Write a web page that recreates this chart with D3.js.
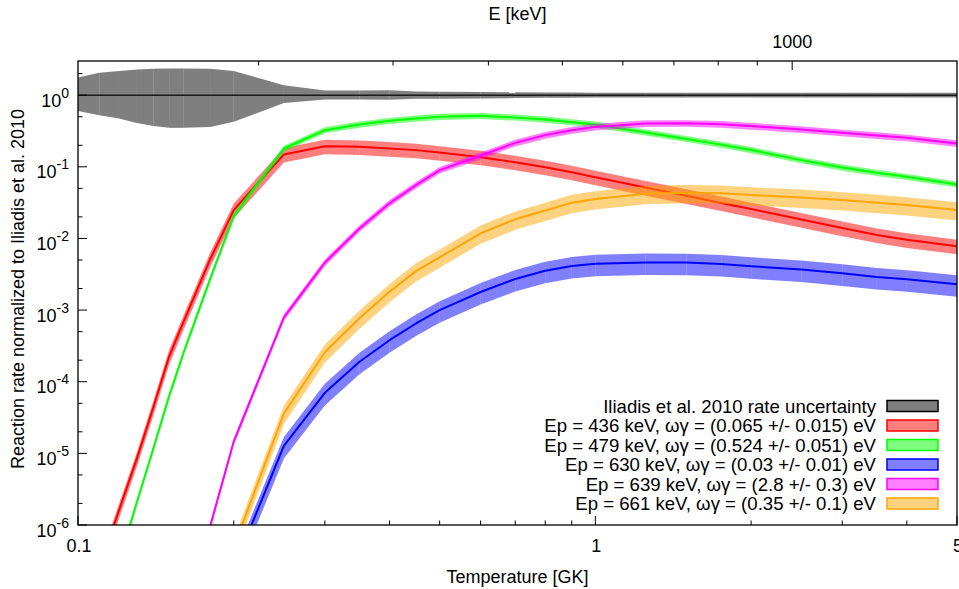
<!DOCTYPE html>
<html>
<head>
<meta charset="utf-8">
<script src="https://cdn.jsdelivr.net/npm/d3@7"></script>
<style>
  body { margin: 0; background: #fff; }
  svg { display: block; font-family: Arial, 'Liberation Sans', sans-serif; }
</style>
</head>
<body>
<div id="chart"></div>
<script>
'use strict';

// Temperature grid [GK] of the rate tables
var TEMPERATURES = [0.1, 0.11, 0.12, 0.13, 0.14, 0.15, 0.16, 0.18, 0.2, 0.25, 0.3, 0.35, 0.4, 0.45, 0.5,
  0.6, 0.7, 0.8, 0.9, 1.0, 1.25, 1.5, 1.75, 2.0, 2.5, 3.0, 3.5, 4.0, 5.0];

// Iliadis et al. 2010 high / low rate, normalized to the recommended rate
var ILIADIS_HIGH = [1.77, 2.05, 2.18, 2.28, 2.33, 2.36, 2.36, 2.33, 2.18, 1.38, 1.16, 1.16, 1.17, 1.13, 1.12,
  1.11, 1.10, 1.09, 1.09, 1.08, 1.08, 1.08, 1.08, 1.08, 1.08, 1.08, 1.08, 1.08, 1.08];
var ILIADIS_LOW = [0.60, 0.526, 0.473, 0.41, 0.37, 0.35, 0.35, 0.361, 0.424, 0.78, 0.87, 0.87, 0.86, 0.89, 0.89,
  0.90, 0.91, 0.92, 0.92, 0.93, 0.93, 0.93, 0.93, 0.93, 0.93, 0.93, 0.93, 0.93, 0.93];

// Normalized rate contribution of each resonance (null = far below the plot)
var RATE_436 = [null, 2.5e-7, 1.6e-6, 8.5e-6, 4.5e-5, 2.25e-4, 6.9e-4, 5.1e-3, 0.0249, 0.149, 0.194, 0.19, 0.18, 0.171, 0.158,
  0.1365, 0.116, 0.0989, 0.0841, 0.0716, 0.0513, 0.0394, 0.0313, 0.0257, 0.0184, 0.014, 0.0112, 0.0096, 0.0078];
var RATE_479 = [null, null, 3e-7, 2.1e-6, 1.2e-5, 6.3e-5, 2.55e-4, 2.7e-3, 0.0205, 0.18, 0.325, 0.39, 0.438, 0.473, 0.50,
  0.515, 0.489, 0.458, 0.42, 0.39, 0.302, 0.245, 0.204, 0.172, 0.124, 0.098, 0.0826, 0.0726, 0.0568];
var RATE_630 = [null, null, null, null, null, null, null, null, 2.5e-7, 1.27e-5, 7.0e-5, 1.9e-4, 3.8e-4, 6.5e-4, 1.0e-3,
  1.79e-3, 2.72e-3, 3.55e-3, 4.13e-3, 4.45e-3, 4.62e-3, 4.6e-3, 4.4e-3, 4.1e-3, 3.7e-3, 3.26e-3, 2.9e-3, 2.7e-3, 2.3e-3];
var RATE_639 = [null, null, null, null, null, null, 3e-8, 9.5e-7, 1.46e-5, 7.9e-4, 4.6e-3, 0.0138, 0.031, 0.0556, 0.09,
  0.143, 0.216, 0.277, 0.325, 0.361, 0.403, 0.405, 0.394, 0.37, 0.332, 0.298, 0.274, 0.254, 0.212];
var RATE_661 = [null, null, null, null, null, null, null, null, 4.9e-7, 3.6e-5, 2.58e-4, 7.7e-4, 1.8e-3, 3.5e-3, 5.45e-3,
  0.0118, 0.0185, 0.0245, 0.0316, 0.0356, 0.042, 0.0434, 0.0426, 0.0403, 0.0374, 0.0343, 0.0316, 0.0292, 0.0249];

var RESONANCE_ENERGIES = [436, 479, 630, 639, 661];     // keV
var STRENGTHS = [0.065, 0.524, 0.03, 2.8, 0.35];        // eV
var STRENGTH_ERRORS = [0.015, 0.051, 0.01, 0.3, 0.1];   // eV
var RESONANCE_RATES = [RATE_436, RATE_479, RATE_630, RATE_639, RATE_661];
var RESONANCE_COLORS = ['#ff0000', '#00ff00', '#0000ff', '#ff00ff', '#ffa500'];
var ILIADIS_LABEL = 'Iliadis et al. 2010 rate uncertainty';

// Axis ticks
var T_DOMAIN = [0.1, 5];
var T_MAJOR = [0.1, 1, 5];
var T_MINOR = [0.2, 0.3, 0.4, 0.5, 0.6, 0.7, 0.8, 0.9, 2, 3, 4];
var RATE_DOMAIN = [1e-6, 3];
var RATE_EXPONENTS = [0, -1, -2, -3, -4, -5, -6];
var RATE_MINOR_MANTISSAS = [2, 5];
var E_DOMAIN = [116, 1644];   // keV, Gamow energy at the ends of the temperature axis
var E_TICKS = [200, 300, 400, 500, 600, 700, 800, 900, 1000];
var E_LABELS = [1000];

// Layout, pixels
var WIDTH = 959;
var HEIGHT = 589;
var PLOT = { left: 78, right: 957, top: 61, bottom: 525 };
var MAJOR_TICK = 9;
var MINOR_TICK = 4.5;
var FONT_SIZE = '18px';
var LEGEND_FONT_SIZE = '18.6px';

var svg = d3.select('#chart').append('svg')
  .attr('width', WIDTH)
  .attr('height', HEIGHT);

var x = d3.scaleLog().domain(T_DOMAIN).range([PLOT.left, PLOT.right]);
var y = d3.scaleLog().domain(RATE_DOMAIN).range([PLOT.bottom, PLOT.top]);
var xE = d3.scaleLog().domain(E_DOMAIN).range([PLOT.left, PLOT.right]);

svg.append('defs').append('clipPath')
  .attr('id', 'plot-clip')
  .append('rect')
  .attr('x', PLOT.left)
  .attr('y', PLOT.top)
  .attr('width', PLOT.right - PLOT.left)
  .attr('height', PLOT.bottom - PLOT.top);

var plot = svg.append('g').attr('clip-path', 'url(#plot-clip)');

// one quad per temperature step, so the seams between steps stay visible like in the original
function drawBand(low, high, fill, opacity) {
  var quads = [];
  for (var i = 0; i < TEMPERATURES.length - 1; ++i) {
    if (low[i] == null || low[i + 1] == null) continue;
    quads.push([
      [x(TEMPERATURES[i]), y(high[i])],
      [x(TEMPERATURES[i + 1]), y(high[i + 1])],
      [x(TEMPERATURES[i + 1]), y(low[i + 1])],
      [x(TEMPERATURES[i]), y(low[i])]
    ]);
  }
  plot.append('g')
    .selectAll('path')
    .data(quads)
    .enter()
    .append('path')
    .attr('d', function(d) { return 'M' + d.join('L') + 'Z'; })
    .style('fill', fill)
    .style('fill-opacity', opacity)
    .style('stroke', 'none');
}

function drawLine(values, color, width) {
  var line = d3.line()
    .defined(function(d) { return d[1] != null; })
    .x(function(d) { return x(d[0]); })
    .y(function(d) { return y(d[1]); });
  plot.append('path')
    .datum(TEMPERATURES.map(function(t, i) { return [t, values[i]]; }))
    .attr('d', line)
    .style('fill', 'none')
    .style('stroke', color)
    .style('stroke-width', width)
    .style('stroke-linejoin', 'round');
}

// Iliadis band and reference line
drawBand(ILIADIS_LOW, ILIADIS_HIGH, '#000', 0.5);
drawLine(TEMPERATURES.map(function() { return 1; }), '#1a1a1a', 1.5);

// resonances: band scaled with the strength uncertainty, then the central rate
RESONANCE_RATES.forEach(function(rates, k) {
  var low = rates.map(function(v) { return v == null ? null : v * (STRENGTHS[k] - STRENGTH_ERRORS[k]) / STRENGTHS[k]; });
  var high = rates.map(function(v) { return v == null ? null : v * (STRENGTHS[k] + STRENGTH_ERRORS[k]) / STRENGTHS[k]; });
  drawBand(low, high, RESONANCE_COLORS[k], 0.5);
  drawLine(rates, RESONANCE_COLORS[k], 2);
});

// Axes
var axes = svg.append('g').style('stroke', '#000').style('stroke-width', 1);

axes.selectAll('line.ytick')
  .data(RATE_EXPONENTS)
  .enter()
  .append('line')
  .attr('x1', PLOT.left).attr('x2', PLOT.left + MAJOR_TICK)
  .attr('y1', function(d) { return y(Math.pow(10, d)); })
  .attr('y2', function(d) { return y(Math.pow(10, d)); });

var minorRates = [];
RATE_EXPONENTS.forEach(function(e) {
  RATE_MINOR_MANTISSAS.forEach(function(m) {
    var v = m * Math.pow(10, e);
    if (v <= RATE_DOMAIN[1]) minorRates.push(v);
  });
});
axes.selectAll('line.yminor')
  .data(minorRates)
  .enter()
  .append('line')
  .attr('x1', PLOT.left).attr('x2', PLOT.left + MINOR_TICK)
  .attr('y1', function(d) { return y(d); })
  .attr('y2', function(d) { return y(d); });

axes.selectAll('line.xtick')
  .data(T_MAJOR)
  .enter()
  .append('line')
  .attr('y1', PLOT.bottom).attr('y2', PLOT.bottom - MAJOR_TICK)
  .attr('x1', function(d) { return x(d); })
  .attr('x2', function(d) { return x(d); });

axes.selectAll('line.xminor')
  .data(T_MINOR)
  .enter()
  .append('line')
  .attr('y1', PLOT.bottom).attr('y2', PLOT.bottom - MINOR_TICK)
  .attr('x1', function(d) { return x(d); })
  .attr('x2', function(d) { return x(d); });

axes.selectAll('line.etick')
  .data(E_TICKS)
  .enter()
  .append('line')
  .attr('y1', PLOT.top)
  .attr('y2', function(d) { return PLOT.top + (E_LABELS.indexOf(d) != -1 ? MAJOR_TICK : MINOR_TICK); })
  .attr('x1', function(d) { return xE(d); })
  .attr('x2', function(d) { return xE(d); });

svg.append('rect')
  .attr('x', PLOT.left)
  .attr('y', PLOT.top)
  .attr('width', PLOT.right - PLOT.left)
  .attr('height', PLOT.bottom - PLOT.top)
  .style('fill', 'none')
  .style('stroke', '#000')
  .style('stroke-width', 1.3);

// Tick labels
var yLabels = svg.selectAll('text.ylabel')
  .data(RATE_EXPONENTS)
  .enter()
  .append('text')
  .attr('x', PLOT.left - 9)
  .attr('y', function(d) { return y(Math.pow(10, d)) + 11.5; })
  .attr('text-anchor', 'end')
  .style('font-size', FONT_SIZE);
yLabels.append('tspan').text('10');
yLabels.append('tspan')
  .attr('dy', -9)
  .style('font-size', '14px')
  .text(function(d) { return String(d); });

svg.selectAll('text.xlabel')
  .data(T_MAJOR)
  .enter()
  .append('text')
  .attr('x', function(d) { return x(d) + 1; })
  .attr('y', PLOT.bottom + 27)
  .attr('text-anchor', 'middle')
  .style('font-size', FONT_SIZE)
  .text(function(d) { return String(d); });

svg.selectAll('text.elabel')
  .data(E_LABELS)
  .enter()
  .append('text')
  .attr('x', function(d) { return xE(d); })
  .attr('y', PLOT.top - 13)
  .attr('text-anchor', 'middle')
  .style('font-size', FONT_SIZE)
  .text(function(d) { return String(d); });

// Axis titles
svg.append('text')
  .attr('x', (PLOT.left + PLOT.right) / 2)
  .attr('y', 583)
  .attr('text-anchor', 'middle')
  .style('font-size', FONT_SIZE)
  .text('Temperature [GK]');

svg.append('text')
  .attr('x', (PLOT.left + PLOT.right) / 2)
  .attr('y', 20)
  .attr('text-anchor', 'middle')
  .style('font-size', FONT_SIZE)
  .text('E [keV]');

svg.append('text')
  .attr('transform', 'translate(24, 289) rotate(-90)')
  .attr('text-anchor', 'middle')
  .style('font-size', FONT_SIZE)
  .text('Reaction rate normalized to Iliadis et al. 2010');

// Legend
var legendItems = [{ label: ILIADIS_LABEL, color: '#000' }].concat(RESONANCE_ENERGIES.map(function(e, k) {
  return {
    label: 'Ep = ' + e + ' keV, ωγ = (' + STRENGTHS[k] + ' +/- ' + STRENGTH_ERRORS[k] + ') eV',
    color: RESONANCE_COLORS[k]
  };
}));

var legend = svg.append('g').attr('transform', 'translate(0, 406)');
var rows = legend.selectAll('g')
  .data(legendItems)
  .enter()
  .append('g')
  .attr('transform', function(d, i) { return 'translate(0,' + (i * 19.5) + ')'; });

rows.append('text')
  .attr('x', 876)
  .attr('y', 6.5)
  .attr('text-anchor', 'end')
  .style('font-size', LEGEND_FONT_SIZE)
  .text(function(d) { return d.label; });

rows.append('rect')
  .attr('x', 887)
  .attr('y', -5.5)
  .attr('width', 51)
  .attr('height', 11)
  .style('fill', function(d) { return d.color; })
  .style('fill-opacity', 0.5)
  .style('stroke', function(d) { return d.color; })
  .style('stroke-width', 1.5);
</script>
</body>
</html>
